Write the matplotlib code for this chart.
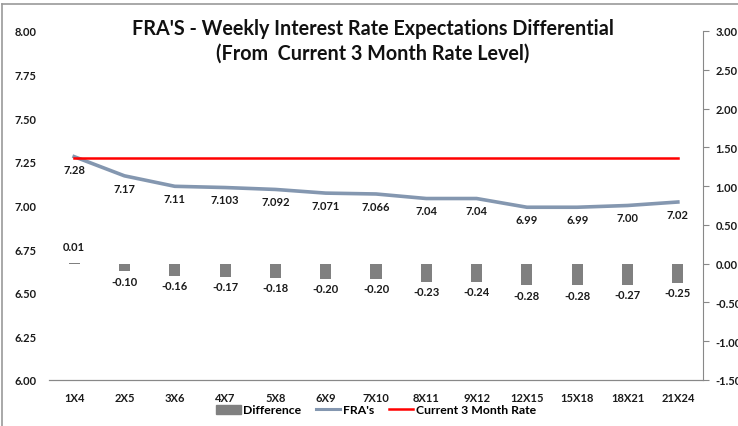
import matplotlib
matplotlib.use("Agg")
import matplotlib.pyplot as plt
from matplotlib.lines import Line2D
from matplotlib.patches import Patch

plt.rcParams['font.family'] = ['Lato', 'DejaVu Sans']

categories = ["1X4", "2X5", "3X6", "4X7", "5X8", "6X9", "7X10", "8X11", "9X12", "12X15", "15X18", "18X21", "21X24"]
fra = [7.28, 7.17, 7.11, 7.103, 7.092, 7.071, 7.066, 7.04, 7.04, 6.99, 6.99, 7.00, 7.02]
fra_labels = ["7.28", "7.17", "7.11", "7.103", "7.092", "7.071", "7.066", "7.04", "7.04", "6.99", "6.99", "7.00", "7.02"]
difference = [0.01, -0.10, -0.16, -0.17, -0.18, -0.20, -0.20, -0.23, -0.24, -0.28, -0.28, -0.27, -0.25]
current_rate = [7.27] * len(categories)

left_ticks = [6.00, 6.25, 6.50, 6.75, 7.00, 7.25, 7.50, 7.75, 8.00]
right_ticks = [-1.50, -1.00, -0.50, 0.00, 0.50, 1.00, 1.50, 2.00, 2.50, 3.00]

fig = plt.figure(figsize=(7.38, 4.27), dpi=100)
W, H = 738, 427
ax = fig.add_axes([49 / W, 1 - 381 / H, (703 - 49) / W, (381 - 32) / H])
ax2 = ax.twinx()

x = list(range(len(categories)))
fra_col = "#8497B0"
bar_col = "#808080"
red = "#FF0000"
tc = "#1a1a1a"

# bars on secondary axis
ax2.bar(x, difference, width=0.22, color=bar_col, zorder=2)
for xi, d in zip(x, difference):
    if d >= 0:
        ax2.annotate(f"{d:.2f}", (xi, d), xytext=(0, 8), textcoords="offset points",
                     ha="center", va="bottom", fontsize=8, fontweight="bold", color=tc)
    else:
        ax2.annotate(f"{d:.2f}", (xi, d), xytext=(0, -3), textcoords="offset points",
                     ha="center", va="top", fontsize=8, fontweight="bold", color=tc)

ax.plot(x, fra, color=fra_col, lw=2.6, zorder=3)
ax.plot(x, current_rate, color=red, lw=1.8, zorder=4)
for xi, v, lab in zip(x, fra, fra_labels):
    ax.annotate(lab, (xi, v), xytext=(0, -5), textcoords="offset points",
                ha="center", va="top", fontsize=8, fontweight="bold", color=tc)

ax.set_zorder(ax2.get_zorder() + 1)
ax.patch.set_visible(False)

ax.set_xlim(-0.5, len(categories) - 0.5)
ax.set_ylim(6.0, 8.0)
ax.set_yticks(left_ticks)
ax.set_yticklabels([f"{t:.2f}" for t in left_ticks], fontsize=8, fontweight="bold", color=tc)
ax.set_xticks(x)
ax.set_xticklabels(categories, fontsize=8, fontweight="bold", color=tc)
ax.tick_params(axis="x", length=0, pad=9)
ax.tick_params(axis="y", length=0, pad=9)

ax2.set_ylim(-1.5, 3.0)
ax2.set_yticks(right_ticks)
ax2.set_yticklabels([f"{t:.2f}" for t in right_ticks], fontsize=8, fontweight="bold", color=tc)
ax2.tick_params(axis="y", length=4, color="#888888", pad=5)

for a in (ax, ax2):
    for s in ("top", "left"):
        a.spines[s].set_visible(False)
    a.spines["right"].set_visible(False)
    a.spines["bottom"].set_color("#888888")
ax2.spines["right"].set_visible(True)
ax2.spines["right"].set_color("#888888")

fig.text(373 / W, 1 - 41 / H, "FRA'S - Weekly Interest Rate Expectations Differential\n(From  Current 3 Month Rate Level)",
         ha="center", va="center", fontsize=14.2, fontweight="bold", color="#111111", linespacing=1.3)

handles = [Patch(facecolor=bar_col, edgecolor=bar_col),
           Line2D([], [], color=fra_col, lw=2.2),
           Line2D([], [], color=red, lw=1.8)]
fig.legend(handles, ["Difference", "FRA's", "Current 3 Month Rate"], loc="center",
           bbox_to_anchor=(376 / W, 1 - 411 / H), ncol=3, frameon=False,
           prop={"size": 8.8, "weight": "bold"}, handlelength=2.0, handleheight=0.8,
           handletextpad=0.2, columnspacing=1.2)

# outer frame
fig.add_artist(Line2D([2 / W, 2 / W], [0, 1 - 5 / H], color="#999999", lw=1.2, transform=fig.transFigure))
fig.add_artist(Line2D([2 / W, 1], [1 - 5 / H, 1 - 5 / H], color="#999999", lw=1.2, transform=fig.transFigure))

fig.savefig("out.png", dpi=100)
